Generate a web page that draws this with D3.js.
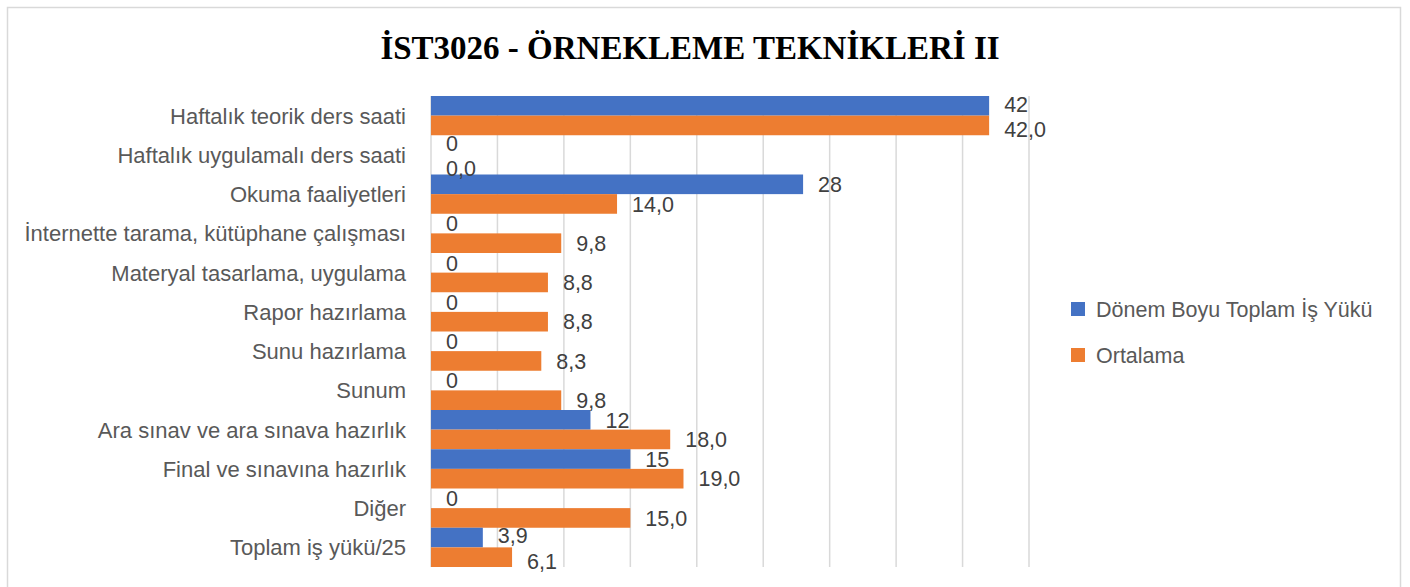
<!DOCTYPE html>
<html>
<head>
<meta charset="utf-8">
<script src="https://cdn.jsdelivr.net/npm/d3@7"></script>
<style>
  body { margin: 0; background: #fff; }
  .gridLines { stroke: #d9d9d9; stroke-width: 1.5; }
</style>
</head>
<body>
<script>
(function() {

  // Pseudo-global variables
  // Categories (top to bottom)
  var categories = [
    "Haftalık teorik ders saati",
    "Haftalık uygulamalı ders saati",
    "Okuma faaliyetleri",
    "İnternette tarama, kütüphane çalışması",
    "Materyal tasarlama, uygulama",
    "Rapor hazırlama",
    "Sunu hazırlama",
    "Sunum",
    "Ara sınav ve ara sınava hazırlık",
    "Final ve sınavına hazırlık",
    "Diğer",
    "Toplam iş yükü/25"
  ];
  // Series values
  var workload = [42, 0, 28, 0, 0, 0, 0, 0, 12, 15, 0, 3.9];
  var average = [42.0, 0.0, 14.0, 9.8, 8.8, 8.8, 8.3, 9.8, 18.0, 19.0, 15.0, 6.1];
  var seriesNames = ["Dönem Boyu Toplam İş Yükü", "Ortalama"];
  var seriesColors = ["#4472C4", "#ED7D31"];
  // Axis ticks (gridlines only, no labels)
  var xTicks = [0, 5, 10, 15, 20, 25, 30, 35, 40, 45];
  var title = "İST3026 - ÖRNEKLEME TEKNİKLERİ II";

  window.onload = setChart();

  // Number formats: integer-ish for workload, one decimal for average
  function fmtWorkload(v) {
    return (Math.round(v) === v ? String(v) : v.toFixed(1)).replace(".", ",");
  };
  function fmtAverage(v) {
    return v.toFixed(1).replace(".", ",");
  };

  function setChart() {
    var width = 1410,
        height = 587;
    var svg = d3.select("body")
        .append("svg")
        .attr("width", width)
        .attr("height", height);

    // Chart border
    svg.append("rect")
        .attr("x", 7.5)
        .attr("y", 7.5)
        .attr("width", 1393)
        .attr("height", 600)
        .attr("fill", "#fff")
        .attr("stroke", "#d9d9d9")
        .attr("stroke-width", 1.5);

    // Title
    svg.append("text")
        .attr("x", 690)
        .attr("y", 59)
        .attr("text-anchor", "middle")
        .style("font-family", "'Liberation Serif', 'Times New Roman', serif")
        .style("font-weight", "bold")
        .style("font-size", "33px")
        .style("fill", "#000")
        .text(title);

    // Scales
    var xScale = d3.scaleLinear()
        .domain([0, 45])
        .range([431, 1029]);
    var yScale = d3.scaleBand()
        .domain(categories)
        .range([96, 567])
        .paddingInner(0)
        .paddingOuter(0);
    var yInner = d3.scaleBand()
        .domain([0, 1])
        .range([0, yScale.bandwidth()]);

    // Gridlines
    svg.selectAll(".gridLines")
        .data(xTicks)
        .enter()
        .append("line")
        .attr("class", "gridLines")
        .attr("x1", function(d) { return xScale(d); })
        .attr("x2", function(d) { return xScale(d); })
        .attr("y1", 96)
        .attr("y2", 567);

    // Category labels
    svg.selectAll(".catLabels")
        .data(categories)
        .enter()
        .append("text")
        .attr("class", "catLabels")
        .attr("x", 406)
        .attr("y", function(d) { return yScale(d) + yScale.bandwidth() / 2; })
        .attr("dy", "0.36em")
        .attr("text-anchor", "end")
        .style("font-family", "'Liberation Sans', Arial, sans-serif")
        .style("font-size", "22px")
        .style("fill", "#595959")
        .text(function(d) { return d; });

    // Build bar rows from the arrays
    var rows = [];
    categories.forEach(function(c, i) {
      // Labels of the two bars start at nearly the same x: nudge them apart
      var clash = Math.abs(xScale(workload[i]) - xScale(average[i])) < 40;
      rows.push({cat: c, s: 0, value: workload[i], label: fmtWorkload(workload[i]), shift: clash ? -2 : 0});
      rows.push({cat: c, s: 1, value: average[i], label: fmtAverage(average[i]), shift: clash ? 4 : 0});
    });

    svg.selectAll(".bars")
        .data(rows)
        .enter()
        .append("rect")
        .attr("class", "bars")
        .attr("x", xScale(0))
        .attr("y", function(d) { return yScale(d.cat) + yInner(d.s); })
        .attr("width", function(d) { return xScale(d.value) - xScale(0); })
        .attr("height", yInner.bandwidth())
        .style("fill", function(d) { return seriesColors[d.s]; });

    // Value labels
    svg.selectAll(".numbers")
        .data(rows)
        .enter()
        .append("text")
        .attr("class", "numbers")
        .attr("x", function(d) { return xScale(d.value) + 15; })
        .attr("y", function(d) { return yScale(d.cat) + yInner(d.s) + yInner.bandwidth() / 2 + d.shift; })
        .attr("dy", "0.36em")
        .style("font-family", "'Liberation Sans', Arial, sans-serif")
        .style("font-size", "21.5px")
        .style("fill", "#404040")
        .text(function(d) { return d.label; });

    // Legend
    var legend = svg.selectAll(".legend")
        .data(seriesNames)
        .enter()
        .append("g")
        .attr("class", "legend")
        .attr("transform", function(d, i) { return "translate(1071," + (302 + i * 46) + ")"; });
    legend.append("rect")
        .attr("width", 14)
        .attr("height", 14)
        .style("fill", function(d, i) { return seriesColors[i]; });
    legend.append("text")
        .attr("x", 25)
        .attr("y", 7)
        .attr("dy", "0.36em")
        .style("font-family", "'Liberation Sans', Arial, sans-serif")
        .style("font-size", "21.5px")
        .style("fill", "#595959")
        .text(function(d) { return d; });
  };

})();
</script>
</body>
</html>
